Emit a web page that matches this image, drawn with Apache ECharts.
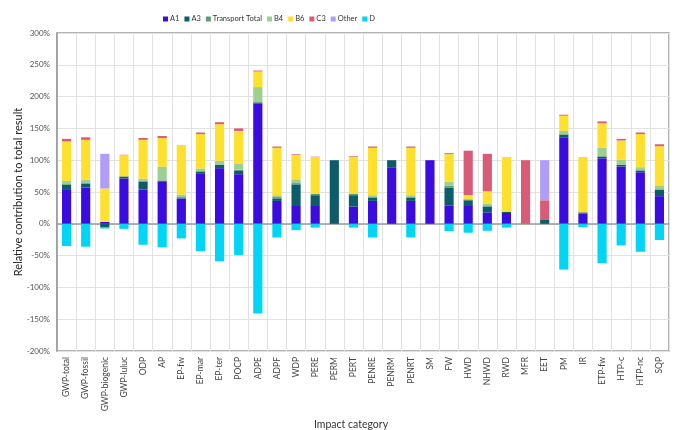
<!DOCTYPE html>
<html>
<head>
<meta charset="utf-8">
<script src="https://cdn.jsdelivr.net/npm/echarts@6/dist/echarts.min.js"></script>
<style>
  html, body { margin: 0; padding: 0; background: #fff; }
  #chart { width: 676px; height: 430px; }
</style>
</head>
<body>
<div id="chart"></div>
<script>
// Impact categories along the x axis
const categories = ['GWP-total', 'GWP-fossil', 'GWP-biogenic', 'GWP-luluc', 'ODP', 'AP', 'EP-fw', 'EP-mar', 'EP-ter', 'POCP', 'ADPE', 'ADPF', 'WDP', 'PERE', 'PERM', 'PERT', 'PENRE', 'PENRM', 'PENRT', 'SM', 'FW', 'HWD', 'NHWD', 'RWD', 'MFR', 'EET', 'PM', 'IR', 'ETP-fw', 'HTP-c', 'HTP-nc', 'SQP'];

// Relative contribution of each life-cycle module (%)
const a1 = [54.5, 57, 3, 71, 54, 66, 40, 78.5, 87.5, 78, 189, 36, 28, 28, 0, 27, 36, 88, 36, 100, 29, 28, 18, 17, 0, 0, 136, 16, 103, 90, 81, 43.5];
const a3 = [7, 6, -5, 3.5, 12, 2, 0, 3.5, 5, 6, 2, 4, 34, 17, 100, 18, 5, 12, 5, 0, 28, 9, 9, 2, 0, 7, 4, 2, 3, 3, 3, 10];
const transportTotal = [2, 2, 0, 0, 2, 0, 2, 1, 1, 1, 0, 2, 2, 2, 0, 2, 2, 0, 2, 0, 3, 1.5, 2, 0, 0, 0, 1, 0, 0, 0, 0, 1];
const b4 = [4, 4, 0, 0, 3, 22, 4, 4, 5.5, 9, 24, 3, 6, 1, 0, 1, 2, 0, 2, 0, 6, 0, 3, 0, 0, 0, 5, 0, 14, 8, 5, 5];
const b6 = [62, 63, 52.5, 33.5, 61, 44.7, 76.6, 54, 57.7, 52, 24.5, 74.5, 38.5, 57, 0, 57.5, 74.5, 0, 74.5, 0, 43.5, 6.5, 19, 86, 0, 0, 24, 87, 38, 30, 52, 62.5];
const c3 = [4, 4, 0, 0.5, 3, 3.3, 0.5, 2.5, 3, 4, 1.5, 2, 1, 0.5, 0, 1, 2, 0, 2, 0, 1.5, 70, 59, 0, 100, 30, 1.5, 0, 3, 2.5, 2.5, 3];
const other = [0, 0, 54.5, 0, 0, 0, 0, 0, 0, 0, 0, 0, 0, 0, 0, 0, 0, 0, 0, 0, 0, 0, 0, 0, 0, 63, 0, 0, 0, 0, 0, 0];
const d = [-35, -36, -2.5, -8, -33, -37, -23, -43, -59, -49, -141, -21.5, -10, -6, 0, -6, -21.5, 0, -21.5, 0, -11.5, -14, -11, -6, 0, 0, -72, -5.5, -62, -34, -44, -25.5];

// Y axis range and step (%)
const yMin = -200, yMax = 300, yStep = 50;

const seriesDefs = [
  { name: 'A1', data: a1, color: '#3A0CE0' },
  { name: 'A3', data: a3, color: '#0D5C6A' },
  { name: 'Transport Total', data: transportTotal, color: '#5A9E78' },
  { name: 'B4', data: b4, color: '#9DD08F' },
  { name: 'B6', data: b6, color: '#FFE02E' },
  { name: 'C3', data: c3, color: '#D85C78' },
  { name: 'Other', data: other, color: '#B29CFA' },
  { name: 'D', data: d, color: '#00D5F5' }
];

const font = 'Lato, "Open Sans", sans-serif';
const chart = echarts.init(document.getElementById('chart'), null, { renderer: 'canvas' });

chart.setOption({
  animation: false,
  textStyle: { fontFamily: font },
  legend: {
    top: 10,
    left: 158,
    itemWidth: 5,
    itemHeight: 5,
    itemGap: 5,
    icon: 'rect',
    textStyle: { fontSize: 7.5, color: '#333', fontFamily: font, padding: [0, 0, 0, -3] },
    data: seriesDefs.map(s => s.name)
  },
  grid: {
    left: 57, right: 7, top: 33, bottom: 79,
    outerBoundsMode: 'none',
    containLabel: false,
    show: true, borderColor: '#9a9a9a', borderWidth: 1.5, backgroundColor: 'transparent'
  },
  xAxis: {
    type: 'category',
    data: categories,
    name: 'Impact category',
    nameLocation: 'middle',
    nameGap: 68,
    nameMoveOverlap: false,
    nameTextStyle: { fontSize: 10.5, color: '#333', fontFamily: font, padding: [0, 24, 0, 0] },
    axisLine: { lineStyle: { color: '#9a9a9a', width: 1.5 } },
    axisTick: { show: false },
    axisLabel: { rotate: 90, fontSize: 8.5, color: '#444', margin: 6, interval: 0, fontFamily: font },
    splitLine: { show: true, interval: 0, lineStyle: { color: '#e2e2e2', width: 1 } }
  },
  yAxis: {
    type: 'value',
    min: yMin, max: yMax, interval: yStep,
    name: 'Relative contribution to total result',
    nameLocation: 'middle',
    nameGap: 33,
    nameMoveOverlap: false,
    nameTextStyle: { fontSize: 11, color: '#222', fontFamily: font },
    axisLine: { show: true, lineStyle: { color: '#9a9a9a', width: 1.5 } },
    axisTick: { show: false },
    axisLabel: { formatter: '{value}%', fontSize: 8, color: '#555', margin: 7, fontFamily: font },
    splitLine: { lineStyle: { color: '#e2e2e2', width: 1 } }
  },
  series: seriesDefs.map(s => ({
    name: s.name,
    type: 'bar',
    stack: 'total',
    barWidth: '48%',
    data: s.data,
    itemStyle: { color: s.color },
    emphasis: { disabled: true }
  }))
});
</script>
</body>
</html>
